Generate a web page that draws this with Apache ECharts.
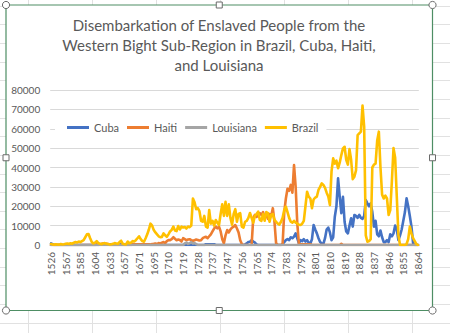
<!DOCTYPE html>
<html>
<head>
<meta charset="utf-8">
<style>
  html, body { margin: 0; padding: 0; background: #ffffff; }
  #chart { width: 450px; height: 333px; }
</style>
<script src="https://cdn.jsdelivr.net/npm/echarts@6/dist/echarts.min.js"></script>
</head>
<body>
<div id="chart"></div>
<script>
const titleText = 'Disembarkation of Enslaved People from the\nWestern Bight Sub-Region in Brazil, Cuba, Haiti,\nand Louisiana';
const seriesNames = ['Cuba', 'Haiti', 'Louisiana', 'Brazil'];
const seriesColors = ['#4472C4', '#ED7D31', '#A5A5A5', '#FFC000'];
const yTicks = { min: 0, max: 80000, interval: 10000 };

const years = [
  1526,1531,1535,1540,1545,1550,1555,1559,1563,1567,
  1569,1571,1573,1575,1577,1579,1581,1583,1585,
  1587,1589,1591,1593,1595,1597,1599,1602,1604,
  1607,1610,1614,1617,1620,1624,1627,1630,1633,
  1636,1638,1641,1644,1647,1649,1652,1655,1657,
  1658,1660,1662,1663,1665,1666,1668,1670,1671,
  1674,1677,1679,1682,1685,1687,1690,1692,1695,
  1697,1698,1700,1702,1703,1705,1707,1708,1710,
  1711,1712,1713,1714,1715,1716,1717,1718,1719,1720,1721,1722,1723,1724,1725,1726,1727,1728,
  1729,1730,1731,1732,1733,1734,1735,1736,1737,
  1738,1739,1741,1742,1743,1744,1745,1746,1747,
  1748,1749,1750,1751,1752,1753,1754,1755,1756,1757,1758,1759,1760,1761,1762,1763,1764,1765,
  1766,1767,1768,1769,1770,1771,1772,1773,1774,1775,1776,1777,1778,1779,1780,1781,1782,1783,
  1784,1785,1786,1787,1788,1789,1790,1791,1792,1793,1794,1795,1796,1797,1798,1799,1800,1801,
  1802,1803,1804,1805,1806,1807,1808,1809,1810,1811,1812,1813,1814,1815,1816,1817,1818,1819,
  1820,1821,1822,1823,1824,1825,1826,1827,1828,1829,1830,1831,1832,1833,1834,1835,1836,1837,
  1838,1839,1840,1841,1842,1843,1844,1845,1846,1847,1848,1849,1850,1851,1852,1853,1854,1855,
  1856,1857,1858,1859,1860,1861,1862,1863,1864
];

const cuba = [
  800,400,0,0,0,0,0,0,0,0,
  0,0,0,0,0,0,0,0,0,0,
  0,0,0,0,0,0,0,0,0,0,
  300,300,300,300,300,300,300,300,300,300,
  300,300,300,300,300,300,300,300,300,300,
  300,300,300,300,300,300,300,300,300,300,
  300,0,0,0,0,0,0,0,0,0,
  0,0,0,0,0,0,0,0,0,0,
  0,0,0,0,0,0,0,0,0,0,
  0,0,0,0,0,400,400,400,400,400,
  400,0,0,0,0,0,0,0,0,0,
  0,0,0,0,0,0,0,0,0,300,
  800,1500,1700,2500,1800,1200,300,0,0,0,
  0,0,0,0,0,0,0,0,0,0,
  0,0,500,1500,2500,3000,2500,4000,3500,4300,
  6000,3500,900,2500,2000,3000,1800,2500,1200,800,
  3000,10300,8000,6000,3500,1500,800,600,3500,8000,
  9000,6500,2500,4000,14600,20000,34400,25000,16400,24900,
  12000,7000,6000,10000,13800,9500,15500,15000,14000,15500,
  14000,13500,15000,23200,21500,20000,21500,17000,9500,12500,
  5500,4500,7500,4000,1500,1500,2500,1500,5500,4500,
  6000,10000,8000,2500,5000,8000,12500,17000,24100,20000,
  15000,9500,1000,0,0,0
];

const haiti = [
  0,0,0,0,0,0,0,0,0,0,
  0,0,0,0,0,0,0,0,0,0,
  0,0,0,0,0,0,0,0,500,800,
  300,600,800,400,700,500,0,0,0,0,
  0,0,0,0,0,0,0,0,0,0,
  400,400,400,400,400,400,400,400,400,400,
  400,300,500,600,800,500,1000,800,1200,1500,
  1000,2000,2500,2500,3000,4000,3200,2500,2800,2600,
  1800,3500,3000,2500,2800,3000,2500,2200,2500,2800,
  2600,2300,2500,3500,4000,4200,3500,4500,5500,7000,
  8500,9500,8600,9500,7000,3000,900,5000,7700,6500,
  8000,9000,9500,10300,8500,6500,2500,500,0,0,
  0,0,0,0,14000,15500,14500,15000,16500,15500,
  17000,14000,15500,13500,16000,15000,19000,12000,1000,0,
  0,0,500,17000,24000,29000,28000,31000,27000,41300,
  30000,11000,500,400,400,400,400,400,400,400,
  0,0,0,0,0,0,0,0,0,0,
  0,0,0,0,0,0,0,0,600,0,
  0,0,0,0,0,0,0,0,0,0,
  0,0,0,0,0,0,0,0,0,0,
  0,0,0,0,0,0,0,0,0,0,
  0,0,0,0,0,0,0,0,0,0,
  0,0,0,0,0,0
];

const louisiana = [
  0,0,0,0,0,0,0,0,0,0,
  0,0,0,0,0,0,0,0,0,0,
  0,0,0,0,0,0,0,0,0,0,
  0,0,0,0,0,0,0,0,0,0,
  0,0,0,0,0,0,0,0,0,0,
  0,0,0,0,0,0,0,0,0,0,
  0,0,0,0,0,0,0,0,0,0,
  0,0,0,0,0,0,0,0,0,0,
  0,0,800,1200,600,900,1500,700,1000,500,
  0,0,0,0,0,0,0,0,0,0,
  0,0,0,0,0,0,0,0,0,0,
  0,0,0,0,0,0,0,0,0,0,
  0,0,0,0,0,0,0,0,0,0,
  0,0,0,0,0,0,0,0,0,0,
  0,0,0,0,0,0,0,0,0,0,
  0,0,0,0,0,0,0,0,0,0,
  0,0,0,0,0,0,0,0,0,0,
  0,0,0,0,0,0,0,0,0,0,
  0,0,0,0,0,0,0,0,0,0,
  0,0,0,0,0,0,0,0,0,0,
  0,0,0,0,0,0,0,0,0,0,
  0,0,0,0,0,0,0,0,0,0,
  0,0,0,0,0,0
];

const brazil = [
  500,300,200,400,300,200,500,300,400,600,
  800,500,900,700,1200,1500,1300,1800,1500,2000,
  2500,4000,5500,5700,3500,1500,800,1200,2000,1000,
  600,400,800,1000,600,500,300,400,600,1000,
  800,600,1500,2200,600,400,300,1800,900,1200,
  2000,1800,2500,3500,4500,3000,2000,1700,3500,5500,
  8000,11000,10000,7700,6500,5500,4500,4000,4200,6000,
  5000,4200,5500,7000,7800,9500,7500,7200,9800,8000,
  9500,9000,9300,8500,9500,9200,10000,24000,22000,18500,
  19000,17500,12500,12000,15000,9500,9000,18000,11000,12500,
  10000,12900,11500,10300,16000,21000,15000,22300,15000,21000,
  14000,10500,16000,18500,12000,16000,16400,9500,9000,12000,
  12500,14000,16500,14000,11500,15000,16000,17200,13000,12500,
  16000,12500,17000,16500,12000,15500,16000,13000,12000,11000,
  10500,12000,14000,18000,19800,17000,14000,12000,11500,12500,
  11500,11000,10500,10300,11000,12500,20000,27500,25000,24000,
  19000,23500,24500,25000,28400,30000,31800,31000,29500,27000,
  25000,20600,38000,44700,42000,43500,39600,42500,46400,49900,
  50700,44000,41500,49500,44000,34000,35200,38500,56700,57600,
  58500,72000,61000,5000,1700,2000,3000,40000,41500,42000,
  54000,58500,40000,26000,24000,25500,24000,15500,18000,33000,
  50000,45000,25000,5000,0,0,0,0,500,3000,
  9500,6000,3500,2000,500,0
];

const seriesData = [cuba, haiti, louisiana, brazil];

// ---- layout (not data) ----
const FONT = 'Lato, "Liberation Sans", sans-serif';
const TXT = '#595959';
const chartBox = { x1: 6, y1: 5, x2: 432.5, y2: 310.5 };
const gfx = [];
[28.5, 92.5, 156.5, 220.5, 284.5, 348.5, 412.5].forEach(function (x) {
  gfx.push({ type: 'line', z: -20, shape: { x1: x, y1: 0, x2: x, y2: 333 }, style: { stroke: '#E1E1E1', lineWidth: 1 } });
});
for (let k = 0; k < 18; k++) {
  const y = Math.round(5.7 + 18.65 * k) + 0.5;
  gfx.push({ type: 'line', z: -20, shape: { x1: 0, y1: y, x2: 450, y2: y }, style: { stroke: '#E1E1E1', lineWidth: 1 } });
}
gfx.push({ type: 'rect', z: -10, shape: { x: chartBox.x1, y: chartBox.y1, width: chartBox.x2 - chartBox.x1, height: chartBox.y2 - chartBox.y1 },
  style: { fill: '#ffffff', stroke: '#4E8E64', lineWidth: 1.2 } });
const cx = (chartBox.x1 + chartBox.x2) / 2, cy = (chartBox.y1 + chartBox.y2) / 2;
[[chartBox.x1, chartBox.y1], [chartBox.x2, chartBox.y1], [chartBox.x1, chartBox.y2], [chartBox.x2, chartBox.y2]].forEach(function (p) {
  gfx.push({ type: 'circle', z: 100, shape: { cx: p[0], cy: p[1], r: 3.6 }, style: { fill: '#ffffff', stroke: '#6b6b6b', lineWidth: 1 } });
});
[[cx, chartBox.y1], [cx, chartBox.y2], [chartBox.x1, cy], [chartBox.x2, cy]].forEach(function (p) {
  gfx.push({ type: 'rect', z: 100, shape: { x: p[0] - 3, y: p[1] - 3, width: 6, height: 6 }, style: { fill: '#ffffff', stroke: '#6b6b6b', lineWidth: 1 } });
});

const chart = echarts.init(document.getElementById('chart'), null, { renderer: 'svg', width: 450, height: 333 });
chart.setOption({
  animation: false,
  backgroundColor: '#ffffff',
  title: {
    text: titleText,
    left: 219, top: 15, padding: 0, textAlign: 'center',
    textStyle: { fontFamily: FONT, fontSize: 15, fontWeight: 'normal', color: TXT, lineHeight: 20 }
  },
  legend: {
    data: seriesNames,
    left: 55, top: 119,
    padding: [3, 8, 3, 12],
    backgroundColor: '#ffffff',
    icon: 'rect', itemWidth: 22, itemHeight: 3, itemGap: 8,
    textStyle: { fontFamily: FONT, fontSize: 11, color: TXT }
  },
  grid: { left: 50.2, top: 90, width: 368.6, height: 155, containLabel: false },
  xAxis: {
    type: 'category',
    data: years,
    boundaryGap: true,
    axisLine: { show: true, lineStyle: { color: '#BFBFBF', width: 1 } },
    axisTick: { show: false },
    axisLabel: { interval: 8, rotate: 90, margin: 7, fontFamily: FONT, fontSize: 10, color: TXT }
  },
  yAxis: {
    type: 'value',
    min: yTicks.min, max: yTicks.max, interval: yTicks.interval,
    axisLine: { show: false }, axisTick: { show: false },
    splitLine: { lineStyle: { color: '#D9D9D9', width: 1 } },
    axisLabel: { margin: 10, fontFamily: FONT, fontSize: 10, color: TXT, formatter: function (v) { return String(v); } }
  },
  color: seriesColors,
  series: seriesNames.map(function (name, i) {
    return {
      name: name, type: 'line', data: seriesData[i],
      symbol: 'none', smooth: false,
      lineStyle: { width: 2.6, color: seriesColors[i], cap: 'round', join: 'round' },
      itemStyle: { color: seriesColors[i] }
    };
  }),
  graphic: gfx
});
</script>
</body>
</html>
